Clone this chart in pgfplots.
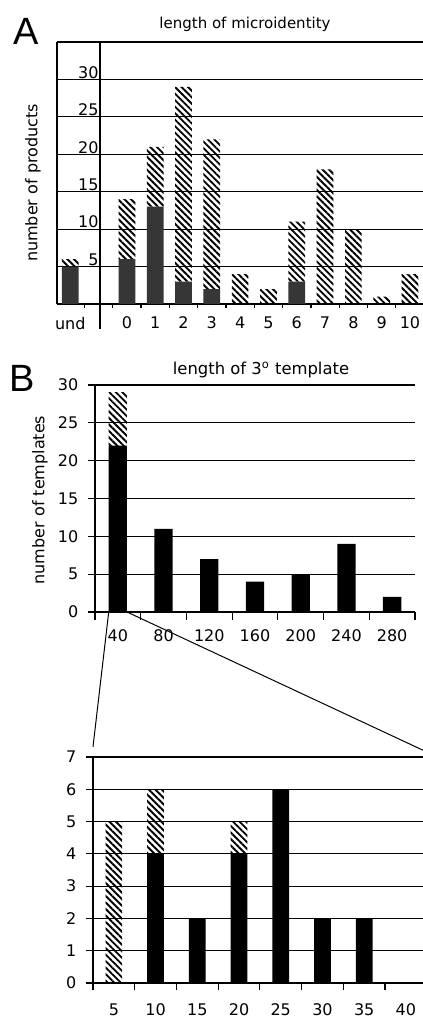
\documentclass[border=0pt]{standalone}
\usepackage{fontspec}
\setmainfont{DejaVu Sans}
\newfontfamily\letterfont{Liberation Sans}
\usepackage{pgfplots}
\pgfplotsset{compat=1.18}
\usetikzlibrary{patterns.meta}

\definecolor{darkbar}{HTML}{363636}

\tikzset{hatch/.style={pattern={Lines[angle=-45,distance=2.3pt,line width=0.95pt]}, pattern color=black}}

\pgfplotsset{
  common/.style={
    scale only axis, anchor=south west,
    ybar stacked,
    tick label style={font=\fontsize{8}{9}\selectfont},
    /pgf/number format/assume math mode=true,
    ymajorgrids,
    grid style={black, line width=0.55pt},
    axis line style={black, line width=0.6pt},
    tick style={black, line width=0.6pt},
    tick align=outside,
    tick pos=left,
  },
}

\begin{document}
\begin{tikzpicture}
\path[use as bounding box] (0,0) rectangle (211.5pt,509pt);

% panel A
\begin{axis}[common,
  at={(28.5pt,357pt)}, width=183pt, height=131pt,
  xmin=-2.47, xmax=10.46, ymin=0, ymax=35,
  bar width=0.59,
  axis x line*=box, axis y line*=left,
  xtick={-2,0,1,2,3,4,5,6,7,8,9,10},
  xticklabels={und,0,1,2,3,4,5,6,7,8,9,10},
  minor xtick={-2.5,-1.5,...,10.5},
  ytick={5,10,...,30},
  major tick length=0pt, minor tick length=2pt,
  yticklabel style={anchor=base east, inner sep=0pt, xshift=21pt, yshift=0.6pt},
  xticklabel style={yshift=-3pt},
  clip=false,
]
\addplot[fill=darkbar, draw=none] coordinates {
  (-2,5) (0,6) (1,13) (2,3) (3,2) (4,0) (5,0) (6,3) (7,0) (8,0) (9,0) (10,0)};
\addplot[hatch, draw=none] coordinates {
  (-2,1) (0,8) (1,8) (2,26) (3,20) (4,4) (5,2) (6,8) (7,18) (8,10) (9,1) (10,4)};
\draw[line width=0.6pt] (axis cs:-0.95,35) -- (axis cs:-0.95,-3.4);
\draw[line width=0.9pt] (axis cs:-2.47,35) -- (axis cs:10.46,35);
\end{axis}

% panel B
\begin{axis}[common,
  at={(47.5pt,203pt)}, width=160pt, height=113.5pt,
  xmin=0.5, xmax=7.5, ymin=0, ymax=30,
  bar width=0.4,
  axis x line*=bottom, axis y line*=left,
  xtick={1,...,7},
  xticklabels={40,80,120,160,200,240,280},
  minor xtick={0.5,1.5,...,7.5},
  ytick={0,5,...,30},
  major tick length=3.5pt, minor tick length=4pt,
  major x tick style={draw=none},
  xticklabel style={yshift=-2pt},
  yticklabel style={xshift=-1.3pt},
  clip=false,
]
\addplot[fill=black, draw=none] coordinates {
  (1,22) (2,11) (3,7) (4,4) (5,5) (6,9) (7,2)};
\addplot[hatch, draw=none] coordinates {
  (1,7) (2,0) (3,0) (4,0) (5,0) (6,0) (7,0)};
\coordinate (zl) at (axis cs:0.8,0);
\coordinate (zr) at (axis cs:1.2,0);
\end{axis}

% zoomed 40 bin
\begin{axis}[common,
  at={(46.5pt,17.5pt)}, width=165pt, height=113pt,
  xmin=0.5, xmax=8.41, ymin=0, ymax=7,
  bar width=0.4,
  axis x line*=bottom, axis y line*=left,
  xtick={1,...,8},
  xticklabels={5,10,15,20,25,30,35,40},
  minor xtick={0.5,1.5,...,8.5},
  ytick={0,1,...,7},
  major tick length=3.5pt, minor tick length=3.5pt,
  major x tick style={draw=none},
  xticklabel style={yshift=-3.4pt},
  yticklabel style={xshift=-1.3pt},
  clip=false,
]
\addplot[fill=black, draw=none] coordinates {
  (1,0) (2,4) (3,2) (4,4) (5,6) (6,2) (7,2) (8,0)};
\addplot[hatch, draw=none] coordinates {
  (1,5) (2,2) (3,0) (4,1) (5,0) (6,0) (7,0) (8,0)};
\coordinate (cl) at (rel axis cs:0,1.045);
\coordinate (cr) at (rel axis cs:1,1.03);
\end{axis}

\draw[line width=0.5pt] (zl) -- (cl);
\draw[line width=0.5pt] (zr) -- (cr);

\node[font=\letterfont\fontsize{19}{20}\selectfont] at (13pt,493.5pt) {A};
\node[font=\letterfont\fontsize{19}{20}\selectfont] at (11.25pt,319.75pt) {B};
\node[font=\fontsize{7.5}{9}\selectfont] at (122.5pt,497pt) {length of microidentity};
\node[font=\fontsize{8.2}{9}\selectfont] at (130.5pt,324pt) {length of 3\textsuperscript{o} template};
\node[rotate=90, font=\fontsize{8}{9}\selectfont] at (16.5pt,417.5pt) {number of products};
\node[rotate=90, font=\fontsize{8}{9}\selectfont] at (20pt,259pt) {number of templates};
\end{tikzpicture}
\end{document}
